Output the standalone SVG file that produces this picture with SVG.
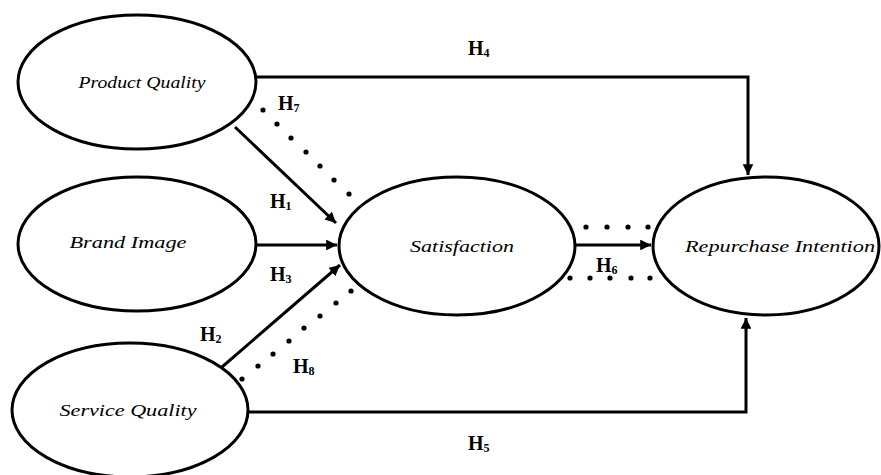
<svg xmlns="http://www.w3.org/2000/svg" width="881" height="475" viewBox="0 0 881 475">
<style>
.node{fill:#fff;stroke:#000;stroke-width:3}
.lbl{font-family:'Liberation Serif','DejaVu Serif',serif;font-style:italic;font-size:17px;fill:#000}
.h{font-family:'Liberation Serif','DejaVu Serif',serif;font-weight:bold;font-size:20px;fill:#000}
.sub{font-size:12px}
.ln{fill:none;stroke:#000;stroke-width:3}
.dot{fill:#000}
</style>
<defs>
<marker id="ah" viewBox="0 0 10 10" refX="10" refY="5" markerWidth="3.6" markerHeight="3.6" orient="auto" markerUnits="strokeWidth">
<path d="M0,0 L10,5 L0,10 z" fill="#000"/>
</marker>
</defs>
<rect width="881" height="475" fill="#fff"/>
<g id="connectors">
<path class="ln" d="M257,77 H748 V175" marker-end="url(#ah)"/>
<path class="ln" d="M248,412 H746 V318" marker-end="url(#ah)"/>
<path class="ln" d="M235,127 L336,223" marker-end="url(#ah)"/>
<path class="ln" d="M257,245 L337,245" marker-end="url(#ah)"/>
<path class="ln" d="M222,367 L340,265" marker-end="url(#ah)"/>
<path class="ln" d="M576,245 L651,245" marker-end="url(#ah)"/>
<g id="dots-h7">
<circle class="dot" cx="263" cy="110" r="2.6"/><circle class="dot" cx="277" cy="124" r="2.6"/><circle class="dot" cx="291" cy="138" r="2.6"/><circle class="dot" cx="306" cy="152" r="2.6"/><circle class="dot" cx="320" cy="166" r="2.6"/><circle class="dot" cx="334" cy="180" r="2.6"/><circle class="dot" cx="349" cy="194" r="2.6"/>
</g>
<g id="dots-h8">
<circle class="dot" cx="242" cy="379" r="2.6"/><circle class="dot" cx="258" cy="366" r="2.6"/><circle class="dot" cx="273" cy="354" r="2.6"/><circle class="dot" cx="289" cy="341" r="2.6"/><circle class="dot" cx="304" cy="328" r="2.6"/><circle class="dot" cx="320" cy="316" r="2.6"/><circle class="dot" cx="336" cy="303" r="2.6"/><circle class="dot" cx="351" cy="291" r="2.6"/>
</g>
<g id="dots-h6">
<circle class="dot" cx="586" cy="227" r="2.6"/><circle class="dot" cx="607" cy="227" r="2.6"/><circle class="dot" cx="628" cy="227" r="2.6"/><circle class="dot" cx="648" cy="227" r="2.6"/>
<circle class="dot" cx="570" cy="278" r="2.6"/><circle class="dot" cx="590" cy="278" r="2.6"/><circle class="dot" cx="610" cy="278" r="2.6"/><circle class="dot" cx="631" cy="278" r="2.6"/><circle class="dot" cx="650" cy="278" r="2.6"/>
</g>
<text class="h" x="468" y="55">H<tspan class="sub" dy="2">4</tspan></text>
<text class="h" x="278" y="110">H<tspan class="sub" dy="2">7</tspan></text>
<text class="h" x="270" y="208">H<tspan class="sub" dy="2">1</tspan></text>
<text class="h" x="270" y="281">H<tspan class="sub" dy="2">3</tspan></text>
<text class="h" x="200" y="341">H<tspan class="sub" dy="2">2</tspan></text>
<text class="h" x="293" y="373">H<tspan class="sub" dy="2">8</tspan></text>
<text class="h" x="596" y="272">H<tspan class="sub" dy="2">6</tspan></text>
<text class="h" x="468" y="450">H<tspan class="sub" dy="2">5</tspan></text>
</g>
<g id="product-quality">
<ellipse class="node" cx="137" cy="82" rx="119" ry="67"/>
<text class="lbl" x="142" y="88" text-anchor="middle" textLength="127" lengthAdjust="spacingAndGlyphs">Product Quality</text>
</g>
<g id="brand-image">
<ellipse class="node" cx="137" cy="244" rx="119" ry="67"/>
<text class="lbl" x="128" y="248" text-anchor="middle" textLength="117" lengthAdjust="spacingAndGlyphs">Brand Image</text>
</g>
<g id="service-quality">
<ellipse class="node" cx="130" cy="410" rx="118" ry="67"/>
<text class="lbl" x="128" y="416" text-anchor="middle" textLength="137" lengthAdjust="spacingAndGlyphs">Service Quality</text>
</g>
<g id="satisfaction">
<ellipse class="node" cx="457" cy="246" rx="118" ry="69"/>
<text class="lbl" x="462" y="252" text-anchor="middle" textLength="104" lengthAdjust="spacingAndGlyphs">Satisfaction</text>
</g>
<g id="repurchase-intention">
<ellipse class="node" cx="766" cy="246" rx="113" ry="69"/>
<text class="lbl" x="780" y="252" text-anchor="middle" textLength="190" lengthAdjust="spacingAndGlyphs">Repurchase Intention</text>
</g>
</svg>
